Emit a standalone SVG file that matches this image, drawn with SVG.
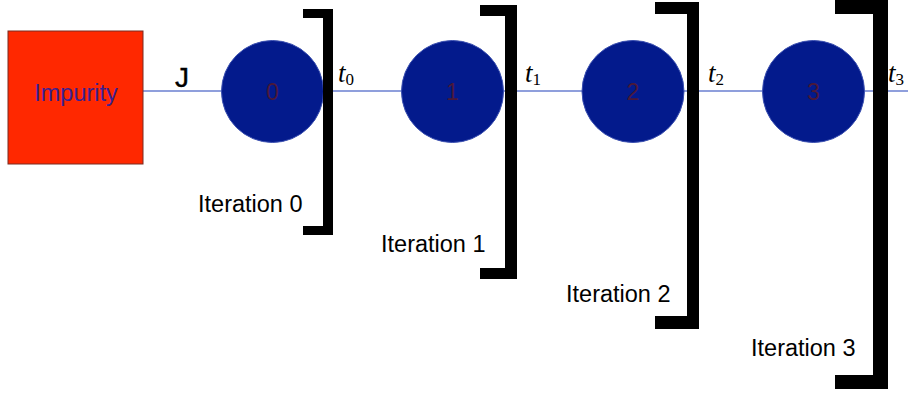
<svg xmlns="http://www.w3.org/2000/svg" width="908" height="394" viewBox="0 0 908 394">
<style>
.site{fill:#031a8c;stroke:#3a4fb0;stroke-width:1}
.num{font-family:"Liberation Sans",Arial,sans-serif;font-size:23px;fill:#4a1838;text-anchor:middle}
.lbl{font-family:"Liberation Sans",Arial,sans-serif;font-size:23.5px;fill:#000}
.t{font-family:"Liberation Serif","Times New Roman",serif;font-style:italic;font-size:27px;fill:#000}
.sub{font-style:normal;font-size:17px}
.br{fill:#000}
</style>
<rect width="908" height="394" fill="#fff"/>
<g id="connectors">
<line x1="143" y1="91" x2="908" y2="91" stroke="#6a7fd0" stroke-width="1.5"/>
<text class="lbl" x="182" y="87" text-anchor="middle" style="font-size:28px" stroke="#000" stroke-width="0.4">J</text>
<text class="t" x="338" y="82">t<tspan class="sub" dy="3">0</tspan></text>
<text class="t" x="525" y="82">t<tspan class="sub" dy="3">1</tspan></text>
<text class="t" x="708" y="82">t<tspan class="sub" dy="3">2</tspan></text>
<text class="t" x="888" y="82">t<tspan class="sub" dy="3">3</tspan></text>
</g>
<g id="impurity">
<rect x="8" y="31" width="135" height="133" fill="#ff2800" stroke="#7a2a20" stroke-width="1"/>
<text x="76" y="101" class="num" style="fill:#3a2090;font-size:23.5px">Impurity</text>
</g>
<g id="site0"><circle class="site" cx="272.5" cy="91.5" r="51"/><text class="num" x="272.5" y="100">0</text></g>
<g id="site1"><circle class="site" cx="452.5" cy="91.5" r="51"/><text class="num" x="452.5" y="100">1</text></g>
<g id="site2"><circle class="site" cx="633" cy="91.5" r="51"/><text class="num" x="633" y="100">2</text></g>
<g id="site3"><circle class="site" cx="813.5" cy="91.5" r="51"/><text class="num" x="813.5" y="100">3</text></g>
<g id="iter0">
<path class="br" d="M303 9H333V235H303V226H323V18H303Z"/>
<text class="lbl" x="198" y="212">Iteration 0</text>
</g>
<g id="iter1">
<path class="br" d="M480 5H517V279H480V268H505V16H480Z"/>
<text class="lbl" x="381" y="252">Iteration 1</text>
</g>
<g id="iter2">
<path class="br" d="M655 2H699V329H655V316H687V14H655Z"/>
<text class="lbl" x="566" y="302">Iteration 2</text>
</g>
<g id="iter3">
<path class="br" d="M835 -2H888V389H835V375H873V14H835Z"/>
<text class="lbl" x="751" y="356">Iteration 3</text>
</g>
</svg>
